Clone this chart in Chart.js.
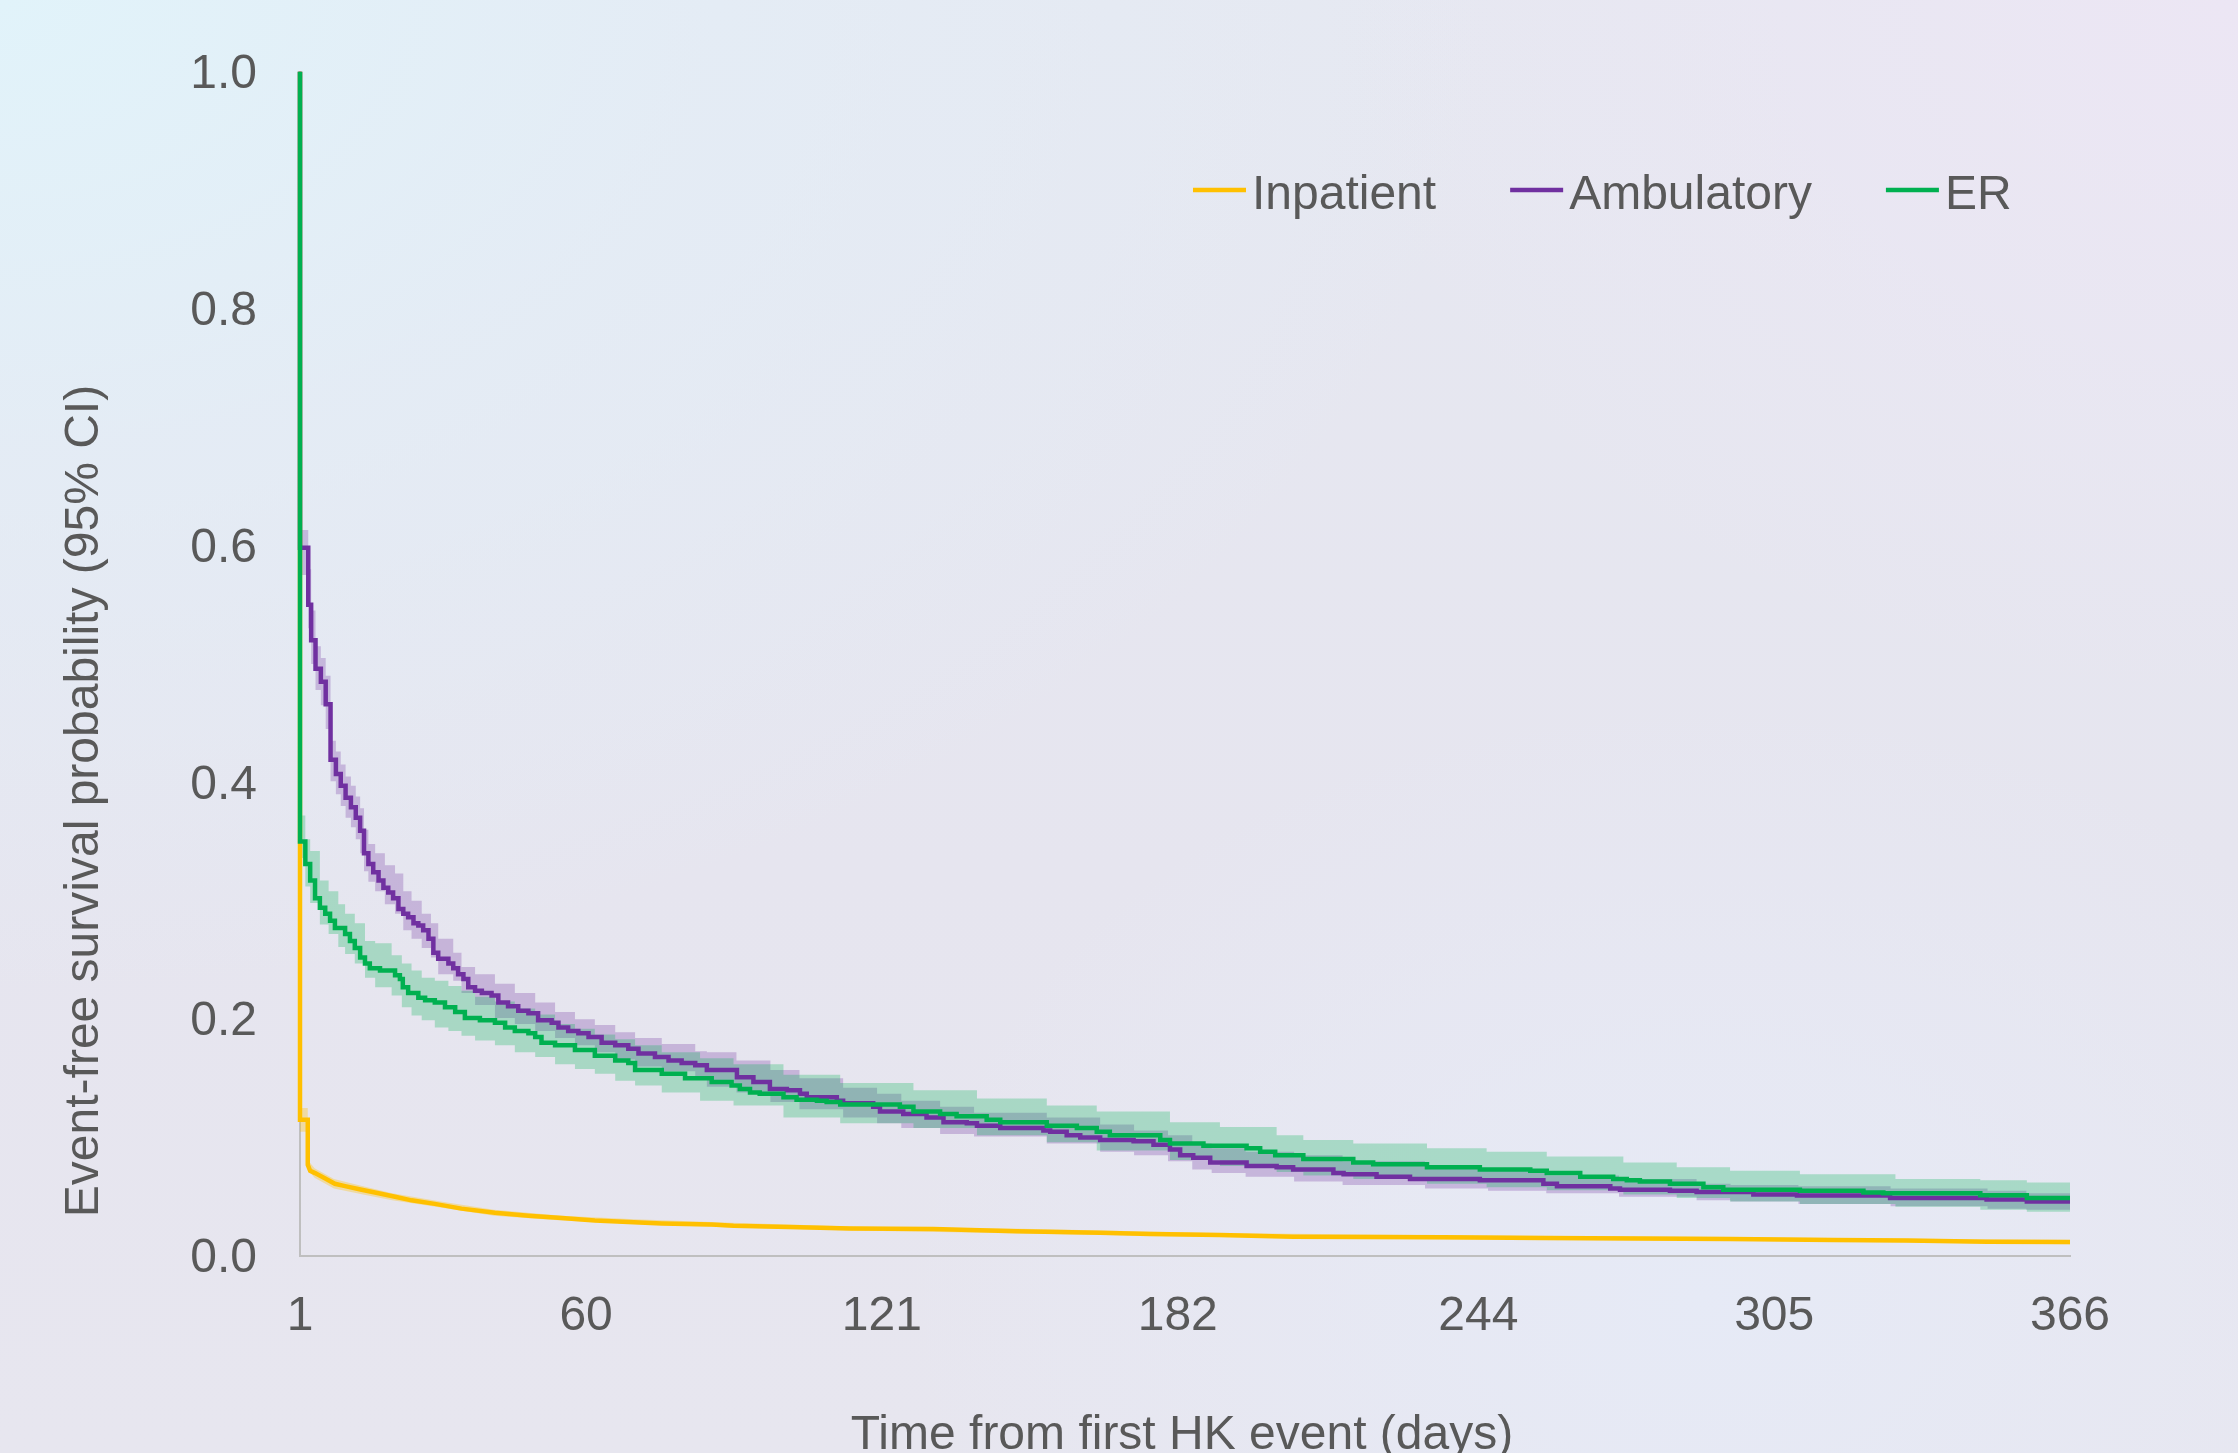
<!DOCTYPE html>
<html>
<head>
<meta charset="utf-8">
<script src="https://cdn.jsdelivr.net/npm/chart.js@4.4.1/dist/chart.umd.min.js"></script>
<style>
html,body{margin:0;padding:0;}
body{width:2238px;height:1453px;overflow:hidden;
background:
 radial-gradient(ellipse 1500px 1000px at 0px 0px, rgba(225,243,250,1) 0%, rgba(227,238,247,0.7) 45%, rgba(230,230,240,0) 100%),
 radial-gradient(ellipse 900px 700px at 2238px 0px, rgba(236,230,244,1) 0%, rgba(233,230,242,0) 100%),
 radial-gradient(ellipse 800px 600px at 1700px 1300px, rgba(230,234,246,1) 0%, rgba(230,232,244,0) 100%),
 linear-gradient(180deg, #e6e8f1 0%, #e6e5ef 60%, #e7e6ef 100%);}
#wrap{position:relative;width:2238px;height:1453px;}
</style>
</head>
<body>
<div id="wrap"><canvas id="c"></canvas></div>
<script>
// ---------- DATA ----------
const xTicks = [1, 60, 121, 182, 244, 305, 366];
const yTicks = [0, 0.2, 0.4, 0.6, 0.8, 1.0];

const seriesNames = ['Inpatient', 'Ambulatory', 'ER'];
const xTitle = 'Time from first HK event (days)';
const yTitle = 'Event-free survival probability (95% CI)';

// ER
const erDays = [1,1,2.1,3.1,4.1,5.1,6.2,7.2,8.2,10.3,11.3,12.3,13.4,14.4,15.4,17.5,20.6,21.6,22.2,23.3,25.4,26.8,28.8,30.9,33.0,35.0,38.1,41.2,43.3,45.3,48.1,49.5,50.8,53.6,57.7,61.8,66.0,68.7,70.1,75.6,80.4,85.9,90.0,91.7,93.8,95.8,100.7,103.4,107.6,109.6,112.4,124.7,127.5,133.0,136.4,142.6,145.4,155.0,161.2,165.3,168.0,178.4,180.4,187.3,196.2,199.0,202.1,207.9,218.2,222.3,233.4,244.3,254.7,258.1,265.0,271.8,274.6,277.3,283.5,290.4,294.5,310.3,323.4,327.5,347.5,357.1,366];
const erSurv = [1.0,0.350,0.331,0.317,0.302,0.294,0.289,0.283,0.277,0.272,0.266,0.260,0.252,0.247,0.243,0.241,0.237,0.234,0.227,0.222,0.218,0.216,0.214,0.210,0.206,0.201,0.199,0.197,0.193,0.190,0.188,0.185,0.180,0.178,0.174,0.169,0.165,0.163,0.157,0.154,0.150,0.147,0.144,0.141,0.138,0.137,0.134,0.132,0.131,0.130,0.128,0.126,0.122,0.120,0.118,0.115,0.113,0.110,0.108,0.105,0.102,0.098,0.095,0.093,0.091,0.088,0.085,0.082,0.079,0.0775,0.075,0.073,0.072,0.070,0.067,0.065,0.064,0.063,0.061,0.058,0.056,0.055,0.0537,0.053,0.0514,0.049,0.049];
const erBandDays = [1,2.1,3.1,5.1,6.9,8.9,10.3,12.3,14.4,16.5,19.9,22.0,24.0,26.1,28.8,31.6,34.3,37.1,41.2,45.3,49.5,53.6,57.7,61.8,66.0,70.1,75.6,83.5,90.4,100.7,112.4,127.5,140.6,155.0,165.3,180.4,190.7,202.4,207.9,218.2,233.4,245.7,258.1,273.9,284.9,295.9,310.3,330,347.5,357.1,366];
const erUpper = [0.372,0.352,0.342,0.317,0.308,0.297,0.289,0.281,0.266,0.264,0.254,0.247,0.241,0.235,0.2325,0.228,0.224,0.219,0.215,0.209,0.204,0.196,0.192,0.187,0.183,0.178,0.172,0.167,0.162,0.153,0.146,0.140,0.133,0.127,0.122,0.113,0.109,0.102,0.098,0.095,0.091,0.088,0.084,0.079,0.075,0.072,0.069,0.065,0.064,0.062,0.062];
const erLower = [0.336,0.312,0.298,0.280,0.272,0.261,0.255,0.247,0.235,0.227,0.220,0.210,0.203,0.199,0.193,0.190,0.186,0.182,0.178,0.172,0.168,0.162,0.158,0.154,0.148,0.144,0.138,0.131,0.127,0.117,0.112,0.108,0.102,0.096,0.089,0.081,0.076,0.071,0.068,0.065,0.061,0.058,0.0556,0.052,0.049,0.046,0.044,0.0415,0.039,0.0373,0.0373];

// Ambulatory
const ambDays = [1,1,2.7,3.3,4.2,5.3,6.3,7.3,8.4,9.4,10.4,11.5,12.5,13.4,14.2,15.1,16.1,17.2,18.2,19.2,20.2,21.3,22.3,23.3,24.4,25.4,26.4,27.5,28.5,29.5,31.6,32.6,33.6,34.7,35.7,37.1,38.5,40.5,41.9,43.9,46.0,48.1,50.1,52.9,54.3,56.3,58.4,60.5,63.2,66.0,68.7,70.8,74.2,77.0,79.7,82.5,84.9,91.1,94.5,97.9,101.4,104.1,105.5,111.7,113.0,119.2,120.6,125.4,130.2,133.7,138.5,140.6,145.4,154.3,155.7,159.1,161.9,166.0,172.9,177.0,180.4,182.5,185.2,188.7,196.2,202.4,205.8,214.1,216.2,223.0,229.9,244.3,257.4,260.2,271.2,273.2,283.5,289.0,300.7,309.7,328.9,348.8,357.1,366];
const ambSurv = [1.0,0.598,0.550,0.520,0.496,0.485,0.466,0.419,0.407,0.397,0.387,0.379,0.370,0.359,0.340,0.331,0.324,0.317,0.311,0.307,0.302,0.293,0.289,0.286,0.281,0.279,0.275,0.268,0.256,0.251,0.247,0.243,0.238,0.234,0.227,0.224,0.222,0.220,0.214,0.211,0.207,0.205,0.199,0.197,0.193,0.190,0.188,0.185,0.180,0.178,0.175,0.171,0.168,0.165,0.163,0.161,0.157,0.151,0.147,0.141,0.140,0.137,0.134,0.131,0.129,0.126,0.122,0.120,0.117,0.113,0.112,0.110,0.108,0.106,0.105,0.102,0.100,0.098,0.097,0.094,0.090,0.085,0.083,0.079,0.076,0.075,0.073,0.070,0.069,0.067,0.065,0.064,0.061,0.059,0.057,0.056,0.055,0.054,0.052,0.051,0.049,0.0478,0.046,0.046];
const ambBandDays = [1,2.7,3.3,4.2,5.3,6.3,7.3,8.4,9.4,10.4,11.5,12.5,13.4,14.2,15.1,16.5,18.5,20.6,22.3,24.0,26.1,28.0,29.5,32.6,34.3,37.1,41.2,45.3,49.5,53.6,57.7,61.8,66.0,70.1,75.6,82.5,84.9,91,98,104,113,120,125,133,140,155,166,173,180,185,189,196,206,216,233,246,258,273,289,296,310,329,349,357,366];
const ambUpper = [0.613,0.580,0.545,0.515,0.505,0.490,0.435,0.426,0.415,0.405,0.397,0.388,0.378,0.360,0.348,0.340,0.330,0.323,0.308,0.300,0.289,0.281,0.268,0.256,0.244,0.238,0.230,0.222,0.214,0.206,0.200,0.195,0.189,0.184,0.179,0.173,0.172,0.165,0.157,0.150,0.142,0.137,0.131,0.126,0.121,0.117,0.111,0.106,0.102,0.095,0.091,0.088,0.085,0.080,0.074,0.072,0.068,0.065,0.061,0.060,0.059,0.057,0.055,0.053,0.053];
const ambLower = [0.575,0.530,0.500,0.478,0.465,0.445,0.401,0.390,0.380,0.370,0.362,0.352,0.340,0.325,0.316,0.308,0.297,0.289,0.275,0.268,0.260,0.252,0.238,0.2325,0.222,0.212,0.201,0.196,0.190,0.184,0.178,0.172,0.166,0.160,0.156,0.149,0.143,0.138,0.130,0.124,0.117,0.112,0.108,0.103,0.101,0.095,0.088,0.085,0.080,0.073,0.070,0.067,0.063,0.060,0.057,0.055,0.053,0.050,0.047,0.046,0.044,0.042,0.040,0.039,0.039];

// Inpatient
const inpDays = [1,1,2.6,2.6,3.1,4.1,6.2,8.2,10.3,13.7,17.2,20.6,24.0,28.8,34.3,41.2,48.1,55.0,61.8,68.7,75.6,85.9,90.4,104.1,114.4,131.6,148.8,166.0,176.3,190.7,205.8,236.8,257.4,295.9,317.2,332.3,348.8,366];
const inpSurv = [1.0,0.115,0.115,0.077,0.072,0.070,0.0655,0.061,0.059,0.056,0.053,0.050,0.047,0.044,0.040,0.0365,0.034,0.032,0.030,0.0287,0.0275,0.0265,0.0256,0.0242,0.0233,0.0227,0.021,0.0197,0.0185,0.0177,0.0163,0.0158,0.0152,0.0143,0.0135,0.013,0.012,0.0118];
const inpBandDays = [1,2.6,2.6,4,8,14,20,30,41,55,70,90,115,150,190,237,296,333,366];
const inpUpper = [0.125,0.125,0.081,0.074,0.065,0.059,0.053,0.046,0.039,0.034,0.031,0.028,0.025,0.023,0.0195,0.0175,0.016,0.0145,0.0135];
const inpLower = [0.105,0.105,0.073,0.066,0.057,0.052,0.047,0.041,0.034,0.030,0.027,0.024,0.0215,0.019,0.016,0.014,0.0128,0.0115,0.010];

// ---------- STYLE ----------
const FONT = '"Liberation Sans", Arial, Helvetica, sans-serif';
const TEXT = '#595959';
const colors = { Inpatient: '#FFC000', Ambulatory: '#7030A0', ER: '#00B050' };
const bandColors = { Inpatient: 'rgba(255,192,0,0.32)', Ambulatory: 'rgba(112,48,160,0.27)', ER: 'rgba(0,176,80,0.27)' };

function pts(days, vals) { return days.map((d, i) => ({ x: d, y: vals[i] })); }

function lineDs(label, days, vals, stepped, order) {
  return { label, data: pts(days, vals), borderColor: colors[label], backgroundColor: colors[label],
    borderWidth: 4.5, stepped, tension: 0, pointRadius: 0, pointHoverRadius: 0, fill: false,
    borderJoinStyle: 'miter', borderCapStyle: 'butt', order, clip: 12 };
}
function bandDs(label, days, vals, stepped, order, fill, bg) {
  return { label, data: pts(days, vals), borderColor: 'rgba(0,0,0,0)', borderWidth: 1,
    backgroundColor: bg || 'rgba(0,0,0,0)', stepped, tension: 0, pointRadius: 0, pointHoverRadius: 0,
    fill, order, clip: 12 };
}

const datasets = [
  lineDs('ER', erDays, erSurv, 'before', 0),
  lineDs('Ambulatory', ambDays, ambSurv, 'before', 1),
  lineDs('Inpatient', inpDays, inpSurv, false, 2),
  bandDs('ER upper', erBandDays, erUpper, 'before', 3, false),
  bandDs('ER lower', erBandDays, erLower, 'before', 3, '-1', bandColors.ER),
  bandDs('Ambulatory upper', ambBandDays, ambUpper, 'before', 4, false),
  bandDs('Ambulatory lower', ambBandDays, ambLower, 'before', 4, '-1', bandColors.Ambulatory),
  bandDs('Inpatient upper', inpBandDays, inpUpper, false, 5, false),
  bandDs('Inpatient lower', inpBandDays, inpLower, false, 5, '-1', bandColors.Inpatient)
];

// titles + legend drawn as canvas text
const textPlugin = {
  id: 'textPlugin',
  afterDraw(chart) {
    const ctx = chart.ctx, ca = chart.chartArea;
    ctx.save();
    ctx.font = '48px ' + FONT;
    ctx.fillStyle = TEXT;
    // x-axis title
    ctx.textAlign = 'center';
    ctx.textBaseline = 'alphabetic';
    ctx.fillText(xTitle, (ca.left + ca.right) / 2 - 3, 1449);
    // y-axis title
    ctx.save();
    ctx.translate(98, 801);
    ctx.rotate(-Math.PI / 2);
    ctx.fillText(yTitle, 0, 0);
    ctx.restore();
    // legend
    let x = 1193;
    const ly = 190, lineLen = 53;
    ctx.textAlign = 'left';
    seriesNames.forEach(name => {
      ctx.strokeStyle = colors[name];
      ctx.lineWidth = 4.5;
      ctx.beginPath();
      ctx.moveTo(x, ly);
      ctx.lineTo(x + lineLen, ly);
      ctx.stroke();
      const tx = x + lineLen + 6;
      ctx.fillStyle = TEXT;
      ctx.fillText(name, tx, 209);
      x = tx + ctx.measureText(name).width + 74;
    });
    ctx.restore();
  }
};

new Chart(document.getElementById('c'), {
  type: 'line',
  data: { datasets },
  plugins: [textPlugin],
  options: {
    responsive: true,
    maintainAspectRatio: false,
    devicePixelRatio: 1,
    animation: false,
    events: [],
    layout: { padding: { top: 70, right: 168, bottom: 0, left: 0 } },
    plugins: { legend: { display: false }, tooltip: { enabled: false }, title: { display: false } },
    scales: {
      x: {
        type: 'linear', min: 1, max: 366,
        afterBuildTicks: ax => { ax.ticks = xTicks.map(v => ({ value: v })); },
        afterFit: s => { s.height = 197; },
        grid: { display: false, drawTicks: false },
        border: { display: true, color: '#bfbfbf', width: 2 },
        ticks: { font: { family: FONT, size: 48 }, color: TEXT, padding: 32, maxRotation: 0, autoSkip: false,
          callback: v => String(v) }
      },
      y: {
        type: 'linear', min: 0, max: 1,
        afterBuildTicks: ax => { ax.ticks = yTicks.map(v => ({ value: v })); },
        afterFit: s => { s.width = 300; },
        grid: { display: false, drawTicks: false },
        border: { display: true, color: '#bfbfbf', width: 2 },
        ticks: { font: { family: FONT, size: 48 }, color: TEXT, padding: 43, labelOffset: 3,
          callback: v => Number(v).toFixed(1) }
      }
    }
  }
});
</script>
</body>
</html>
